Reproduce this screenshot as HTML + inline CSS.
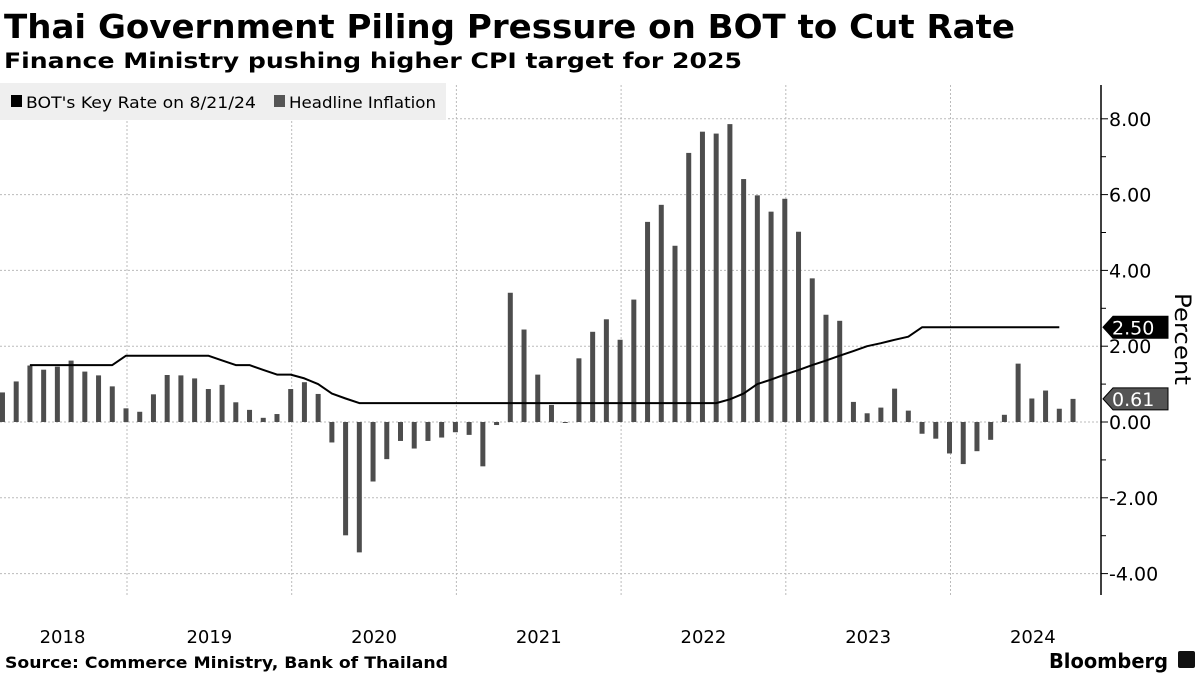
<!DOCTYPE html>
<html><head><meta charset="utf-8"><style>
body{margin:0;background:#fff;}
svg{display:block;font-family:"Liberation Sans","DejaVu Sans",sans-serif;}
</style></head><body>
<svg id="chart" width="1200" height="675" viewBox="0 0 1200 675" xmlns="http://www.w3.org/2000/svg">
<text x="4" y="38" font-family="DejaVu Sans" font-weight="bold" font-size="33" textLength="1011" lengthAdjust="spacingAndGlyphs">Thai Government Piling Pressure on BOT to Cut Rate</text>
<text x="4" y="68" font-family="DejaVu Sans" font-weight="bold" font-size="21" textLength="738" lengthAdjust="spacingAndGlyphs">Finance Ministry pushing higher CPI target for 2025</text>
<g id="grid"></g>
<g id="bars"></g>
<g id="line"></g>
<g id="axis"></g>
<g id="xaxis"></g>
<g>
<rect x="0" y="83" width="446" height="37" fill="#efefef"/>
<rect x="11" y="95" width="11" height="12" fill="#000"/>
<text x="26" y="108" font-family="DejaVu Sans" font-size="16" textLength="230" lengthAdjust="spacingAndGlyphs">BOT's Key Rate on 8/21/24</text>
<rect x="274" y="95" width="11" height="12" fill="#555"/>
<text x="289" y="108" font-family="DejaVu Sans" font-size="16" textLength="147" lengthAdjust="spacingAndGlyphs">Headline Inflation</text>
</g>
<text transform="translate(1175,293) rotate(90)" font-family="DejaVu Sans" font-size="22" textLength="92" lengthAdjust="spacingAndGlyphs">Percent</text>
<text x="5" y="668" font-family="DejaVu Sans" font-weight="bold" font-size="16" textLength="443" lengthAdjust="spacingAndGlyphs">Source: Commerce Ministry, Bank of Thailand</text>
<text x="1049" y="668" font-family="DejaVu Sans" font-weight="bold" font-size="20" textLength="119" lengthAdjust="spacingAndGlyphs">Bloomberg</text>
<rect x="1178" y="651" width="17" height="17" rx="2" fill="#111"/>
</svg>
<script>
// Monthly headline inflation, Mar 2018 .. Sep 2024
const inflStart = 2; // month index from Jan 2018
const inflation = [0.78,1.07,1.49,1.38,1.46,1.62,1.33,1.23,0.94,0.36,
0.27,0.73,1.24,1.23,1.15,0.87,0.98,0.52,0.32,0.11,0.21,0.87,
1.05,0.74,-0.54,-2.99,-3.44,-1.57,-0.98,-0.50,-0.70,-0.50,-0.41,-0.27,
-0.34,-1.17,-0.08,3.41,2.44,1.25,0.45,-0.02,1.68,2.38,2.71,2.17,
3.23,5.28,5.73,4.65,7.10,7.66,7.61,7.86,6.41,5.98,5.55,5.89,
5.02,3.79,2.83,2.67,0.53,0.23,0.38,0.88,0.30,-0.31,-0.44,-0.83,
-1.11,-0.77,-0.47,0.19,1.54,0.62,0.83,0.35,0.61];
// BOT key rate, May 2018 .. Aug 2024
const rateStart = 4;
const keyRate = [1.5,1.5,1.5,1.5,1.5,1.5,1.5,1.75,
1.75,1.75,1.75,1.75,1.75,1.75,1.625,1.5,1.5,1.375,1.25,1.25,
1.15,1.0,0.75,0.62,0.5,0.5,0.5,0.5,0.5,0.5,0.5,0.5,
0.5,0.5,0.5,0.5,0.5,0.5,0.5,0.5,0.5,0.5,0.5,0.5,
0.5,0.5,0.5,0.5,0.5,0.5,0.5,0.6,0.75,1.0,1.12,1.25,
1.37,1.5,1.62,1.75,1.87,2.0,2.08,2.17,2.25,2.5,2.5,2.5,
2.5,2.5,2.5,2.5,2.5,2.5,2.5,2.5];
const yTicks = [-4,-2,0,2,4,6,8];
const years = ["2018","2019","2020","2021","2022","2023","2024"];

const NS="http://www.w3.org/2000/svg";
const yearW=164.7, x0=127-yearW;
function xM(i){return x0+(i+1)*yearW/12-1;}
function yV(v){return 422-v*37.9;}
function mk(tag,attrs,parent){const e=document.createElementNS(NS,tag);for(const k in attrs)e.setAttribute(k,attrs[k]);parent.appendChild(e);return e;}
const grid=document.getElementById('grid'),bars=document.getElementById('bars'),line=document.getElementById('line'),axis=document.getElementById('axis'),xaxis=document.getElementById('xaxis');
const axX=1101;
yTicks.forEach(v=>{
  const g=mk('line',{x1:0,x2:axX,y1:yV(v),y2:yV(v),stroke:'#bbb','stroke-width':1,'stroke-dasharray':'2,2'},grid);
  
  
  const t=mk('line',{x1:axX,x2:axX+7,y1:yV(v),y2:yV(v),stroke:'#000','stroke-width':1},axis);
  
  
  const l=mk('text',{x:axX+8,y:yV(v)+7,'font-size':19,'font-family':'DejaVu Sans'},axis);
  l.textContent=(v<0?'-':'')+Math.abs(v).toFixed(2);
  
  
});
for(let v=-3;v<=7;v+=2){
  const t=mk('line',{x1:axX,x2:axX+5,y1:yV(v),y2:yV(v),stroke:'#000','stroke-width':1},axis);
  
  
}
const ax=mk('line',{x1:axX,x2:axX,y1:85,y2:595,stroke:'#000','stroke-width':1.5},axis);


years.forEach((y,i)=>{
  const bx=x0+i*yearW;
  if(i>0){
    const g=mk('line',{x1:bx,x2:bx,y1:85,y2:595,stroke:'#bbb','stroke-width':1,'stroke-dasharray':'2,2'},grid);
    
    
  }
  let cx=bx+yearW/2; if(i===0)cx=(0+127)/2-1;
  const t=mk('text',{x:cx,y:643,'font-size':18,'text-anchor':'middle','font-family':'DejaVu Sans'},xaxis);
  t.textContent=y;
  
  
});
inflation.forEach((v,k)=>{
  const x=xM(inflStart+k);
  const b=mk('rect',{x:x-2.5,width:5,y:Math.min(yV(v),yV(0)),height:Math.max(1,Math.abs(yV(v)-yV(0))),fill:'#4d4d4d'},bars);
  
  
});
const pts=keyRate.map((v,k)=>xM(rateStart+k).toFixed(1)+','+yV(v).toFixed(1)).join(' ');
const pl=mk('polyline',{points:pts,fill:'none',stroke:'#000','stroke-width':2,'stroke-linejoin':'round'},line);


function tag(v,fill,name){
  const y=yV(v);
  const p=mk('polygon',{points:`${axX+2},${y} ${axX+12},${y-11} ${1168},${y-11} ${1168},${y+11} ${axX+12},${y+11}`,fill:fill,stroke:'#000','stroke-width':1},axis);
  
  
  const t=mk('text',{x:axX+11,y:y+7,'font-size':19,fill:'#fff','font-family':'DejaVu Sans'},axis);
  t.textContent=v.toFixed(2);
  
  
}
tag(keyRate[keyRate.length-1],'#000','key-rate-value-tag');
tag(inflation[inflation.length-1],'#555','inflation-value-tag');
</script>
</body></html>
